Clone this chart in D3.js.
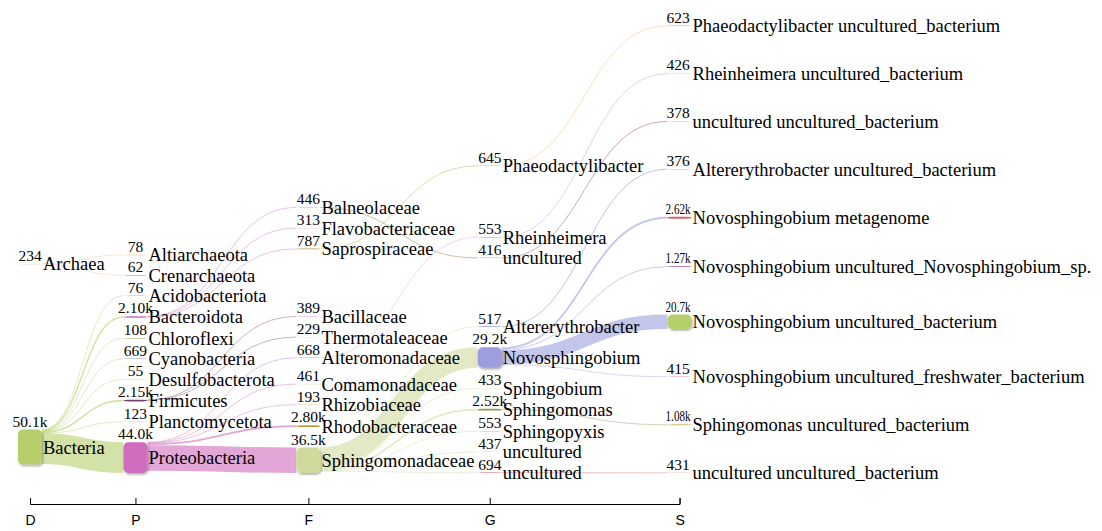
<!DOCTYPE html>
<html>
<head>
<meta charset="utf-8">
<script src="https://cdn.jsdelivr.net/npm/d3@7"></script>
<style>
  html, body { margin: 0; padding: 0; background: #ffffff; }
  svg { display: block; }
</style>
</head>
<body>
<svg id="chart" width="1102" height="531"></svg>
<script>
// ------------------------------------------------------------------
// DATA
// ------------------------------------------------------------------
const ranks = ["D", "P", "F", "G", "S"];

// taxa, listed per rank in the order they appear from top to bottom
const nodeNames = [
  "Archaea", "Bacteria",
  "Altiarchaeota", "Crenarchaeota", "Acidobacteriota", "Bacteroidota", "Chloroflexi",
  "Cyanobacteria", "Desulfobacterota", "Firmicutes", "Planctomycetota", "Proteobacteria",
  "Balneolaceae", "Flavobacteriaceae", "Saprospiraceae", "Bacillaceae", "Thermotaleaceae",
  "Alteromonadaceae", "Comamonadaceae", "Rhizobiaceae", "Rhodobacteraceae", "Sphingomonadaceae",
  "Phaeodactylibacter", "Rheinheimera", "uncultured", "Altererythrobacter", "Novosphingobium",
  "Sphingobium", "Sphingomonas", "Sphingopyxis", "uncultured", "uncultured",
  "Phaeodactylibacter uncultured_bacterium", "Rheinheimera uncultured_bacterium",
  "uncultured uncultured_bacterium", "Altererythrobacter uncultured_bacterium",
  "Novosphingobium metagenome", "Novosphingobium uncultured_Novosphingobium_sp.",
  "Novosphingobium uncultured_bacterium", "Novosphingobium uncultured_freshwater_bacterium",
  "Sphingomonas uncultured_bacterium", "uncultured uncultured_bacterium"
];

const nodeRanks = [
  "D", "D",
  "P", "P", "P", "P", "P", "P", "P", "P", "P", "P",
  "F", "F", "F", "F", "F", "F", "F", "F", "F", "F",
  "G", "G", "G", "G", "G", "G", "G", "G", "G", "G",
  "S", "S", "S", "S", "S", "S", "S", "S", "S", "S"
];

const nodeValues = [
  234, 50100,
  78, 62, 76, 2100, 108, 669, 55, 2150, 123, 44000,
  446, 313, 787, 389, 229, 668, 461, 193, 2800, 36500,
  645, 553, 416, 517, 29200, 433, 2520, 553, 437, 694,
  623, 426, 378, 376, 2620, 1270, 20700, 415, 1080, 431
];

// index of the parent taxon (-1 = root)
const nodeParents = [
  -1, -1,
  0, 0, 1, 1, 1, 1, 1, 1, 1, 1,
  5, 5, 5, 9, 9, 11, 11, 11, 11, 11,
  14, 17, 12, 21, 21, 21, 21, 21, 21, 21,
  22, 23, 24, 25, 26, 26, 26, 26, 28, 31
];

// ------------------------------------------------------------------
// STYLE
// ------------------------------------------------------------------
const nodeColours = [
  "#e7cb94", "#b5cf6b",
  "#e7ba52", "#d6616b", "#6b6ecf", "#ce6dbd", "#8ca252", "#9c9ede", "#e7969c", "#7b4173", "#bd9e39", "#ce6dbd",
  "#8c6d31", "#e7969c", "#bd9e39", "#de9ed6", "#e7cb94", "#de9ed6", "#cedb9c", "#e7cb94", "#bd9e39", "#cedb9c",
  "#e7ba52", "#9c9ede", "#843c39", "#6b6ecf", "#9c9ede", "#cedb9c", "#8ca252", "#b5cf6b", "#de9ed6", "#d6616b",
  "#9c9ede", "#9c9ede", "#d6616b", "#6b6ecf", "#d6616b", "#a55194", "#b5cf6b", "#e7969c", "#bd9e39", "#e7969c"
];

const W = 1102, H = 531;
const nodeWidth = 24;
const nodePadding = 20.4;
const extentY = [25.5, 473];
const axisY = 504;
const serif = "'Liberation Serif', 'Times New Roman', Times, serif";
const sans = "'Liberation Sans', Arial, Helvetica, sans-serif";

// ------------------------------------------------------------------
// SCALES
// ------------------------------------------------------------------
// node / link thickness from value
const thickness = d3.scaleLinear().domain([0, 50100]).range([0, 35]);

// column x positions: each rank gets room for its longest label (in characters)
const colChars = ranks.map(r => d3.max(nodeNames.filter((n, i) => nodeRanks[i] === r), n => n.length) + 4.5);
const colStart = ranks.map((r, k) => d3.sum(colChars.slice(0, k)));
const xLin = d3.scaleLinear().domain([0, d3.sum(colChars)]).range([30, W + 12]);
const x = d3.scaleOrdinal().domain(ranks).range(colStart.map(c => xLin(c)));

// ------------------------------------------------------------------
// LAYOUT
//  1. inner ranks: taxa stacked upward from the baseline, in order, with padding
//     leaf rank: taxa distributed over the whole height
//  2. inner ranks (right to left): every taxon except the bottom one floats up
//     toward the value-weighted centre of its parent and children (never sinks);
//     heavier taxa are placed first, lighter ones make room around them
//  3. root rank: each root centred on its children (value weighted)
// ------------------------------------------------------------------
function layout() {
  const [top, base] = extentY;
  const py = nodePadding;
  const nodes = nodeNames.map((name, i) => ({
    index: i, name, rank: nodeRanks[i], value: nodeValues[i],
    layer: ranks.indexOf(nodeRanks[i]), colour: nodeColours[i],
    sourceLinks: [], targetLinks: []
  }));
  const links = [];
  nodeParents.forEach((p, i) => {
    if (p >= 0) links.push({ index: links.length, source: nodes[p], target: nodes[i], value: nodeValues[i] });
  });
  for (const l of links) {
    l.source.sourceLinks.push(l);
    l.target.targetLinks.push(l);
    l.width = thickness(l.value);
  }
  const columns = ranks.map((r, k) => nodes.filter(n => n.layer === k));
  const mid = n => (n.y0 + n.y1) / 2;

  // 1. stacking
  columns.forEach((col, k) => {
    if (k === 0) return;
    if (k === columns.length - 1) {
      const total = d3.sum(col, n => thickness(n.value));
      const gap = (base - top - total) / (col.length - 1);
      let y = top;
      for (const n of col) { n.y0 = y; n.y1 = y + thickness(n.value); y = n.y1 + gap; }
    } else {
      let y = base;
      for (let i = col.length - 1; i >= 0; --i) {
        const n = col[i];
        n.y1 = y; n.y0 = y - thickness(n.value);
        y = n.y0 - py;
      }
    }
  });

  // 2. float up toward relatives, heavier taxa first
  for (let k = columns.length - 2; k >= 2; --k) {
    const col = columns[k];
    const m = col.length;
    const h = col.map(n => n.y1 - n.y0);
    const desired = col.map((n, i) => {
      if (i === m - 1) return n.y0;
      let s = 0, w = 0;
      for (const l of n.targetLinks) { s += l.value * mid(l.source); w += l.value; }
      for (const l of n.sourceLinks) { s += l.value * mid(l.target); w += l.value; }
      return w > 0 ? Math.min(n.y0, s / w - h[i] / 2) : n.y0;
    });
    const placed = new Array(m).fill(null);
    const order = d3.range(m).sort((a, b) => (col[b].value - col[a].value) || (a - b));
    for (const i of order) {
      let lb = top, ub = base;
      for (let j = 0; j < i; ++j) lb += h[j] + py;
      for (let j = i; j < m; ++j) ub -= h[j];
      ub -= (m - 1 - i) * py;
      for (let j = i - 1; j >= 0; --j) {
        if (placed[j] !== null) {
          let v = placed[j];
          for (let q = j; q < i; ++q) v += h[q] + py;
          lb = v; break;
        }
      }
      for (let j = i + 1; j < m; ++j) {
        if (placed[j] !== null) {
          let v = placed[j];
          for (let q = i; q < j; ++q) v -= h[q] + py;
          ub = v; break;
        }
      }
      placed[i] = Math.max(lb, Math.min(ub, desired[i]));
    }
    col.forEach((n, i) => { n.y0 = placed[i]; n.y1 = placed[i] + h[i]; });
  }

  // 3. roots
  for (const n of columns[0]) {
    const c = d3.sum(n.sourceLinks, l => l.value * mid(l.target)) / d3.sum(n.sourceLinks, l => l.value);
    const hh = thickness(n.value);
    n.y0 = c - hh / 2; n.y1 = c + hh / 2;
  }

  // link breadths
  const byT = (a, b) => (a.target.y0 - b.target.y0) || (a.index - b.index);
  const byS = (a, b) => (a.source.y0 - b.source.y0) || (a.index - b.index);
  for (const n of nodes) {
    n.sourceLinks.sort(byT); n.targetLinks.sort(byS);
    let a = n.y0, b = n.y0;
    for (const l of n.sourceLinks) { l.y0 = a + l.width / 2; a += l.width; }
    for (const l of n.targetLinks) { l.y1 = b + l.width / 2; b += l.width; }
    n.x = x(n.rank);
  }
  return { nodes, links };
}

const graph = layout();

// ------------------------------------------------------------------
// DRAW
// ------------------------------------------------------------------
const svg = d3.select("#chart");

const defs = svg.append("defs");
const f = defs.append("filter").attr("id", "shadow")
  .attr("x", "-30%").attr("y", "-30%").attr("width", "160%").attr("height", "160%");
f.append("feDropShadow").attr("dx", 1).attr("dy", 1.5).attr("stdDeviation", 1.2)
  .attr("flood-color", "#000").attr("flood-opacity", 0.35);

const linkGen = d3.linkHorizontal()
  .source(l => [l.source.x + nodeWidth / 2, l.y0])
  .target(l => [l.target.x - nodeWidth / 2, l.y1]);

svg.append("g").attr("fill", "none")
  .selectAll("path").data(graph.links).join("path")
  .attr("d", linkGen)
  .attr("stroke", l => l.source.colour)
  .attr("stroke-opacity", 0.6)
  .attr("stroke-width", l => Math.max(0.7, l.width));

const nodeG = svg.append("g").selectAll("g").data(graph.nodes).join("g");

nodeG.append("rect")
  .attr("x", n => n.x - nodeWidth / 2)
  .attr("y", n => n.y0)
  .attr("width", nodeWidth)
  .attr("height", n => Math.max(0.3, n.y1 - n.y0))
  .attr("rx", 5).attr("ry", 5)
  .attr("fill", n => n.colour)
  .attr("filter", n => (n.y1 - n.y0) > 4 ? "url(#shadow)" : null);

const fmt = v => v >= 1000 ? d3.format(".3s")(v) : String(v);

nodeG.append("text")
  .attr("class", "value")
  .attr("text-anchor", "middle")
  .style("font-family", serif)
  .style("font-size", "15.5px")
  .attr("fill", "#000")
  .text(n => fmt(n.value))
  .each(function (n) {
    // labels of the last rank are squeezed horizontally to the node area
    const wdt = this.getComputedTextLength();
    const last = n.layer === ranks.length - 1;
    const sx = last && wdt > nodeWidth + 1 ? (nodeWidth + 1) / wdt : 1;
    const cx = last ? n.x - 1.5 : n.x;
    d3.select(this).attr("transform", `translate(${cx},${n.y0 - 3}) scale(${sx},1)`);
  });

nodeG.append("text")
  .attr("class", "name")
  .attr("x", n => n.x + nodeWidth / 2 + 1)
  .attr("y", n => (n.y0 + n.y1) / 2)
  .attr("dy", "0.35em")
  .style("font-family", serif)
  .style("font-size", "18.5px")
  .attr("fill", "#000")
  .text(n => n.name);

// axis of taxonomic ranks
const axis = d3.axisBottom(x).tickSizeInner(-6).tickSizeOuter(-6).tickPadding(11);
const ag = svg.append("g").attr("transform", `translate(0,${axisY})`).call(axis);
ag.select(".domain").attr("stroke", "#000");
ag.selectAll(".tick line").attr("stroke", "#000");
ag.selectAll(".tick text").style("font-family", sans).style("font-size", "14px").attr("fill", "#000");
</script>
</body>
</html>
